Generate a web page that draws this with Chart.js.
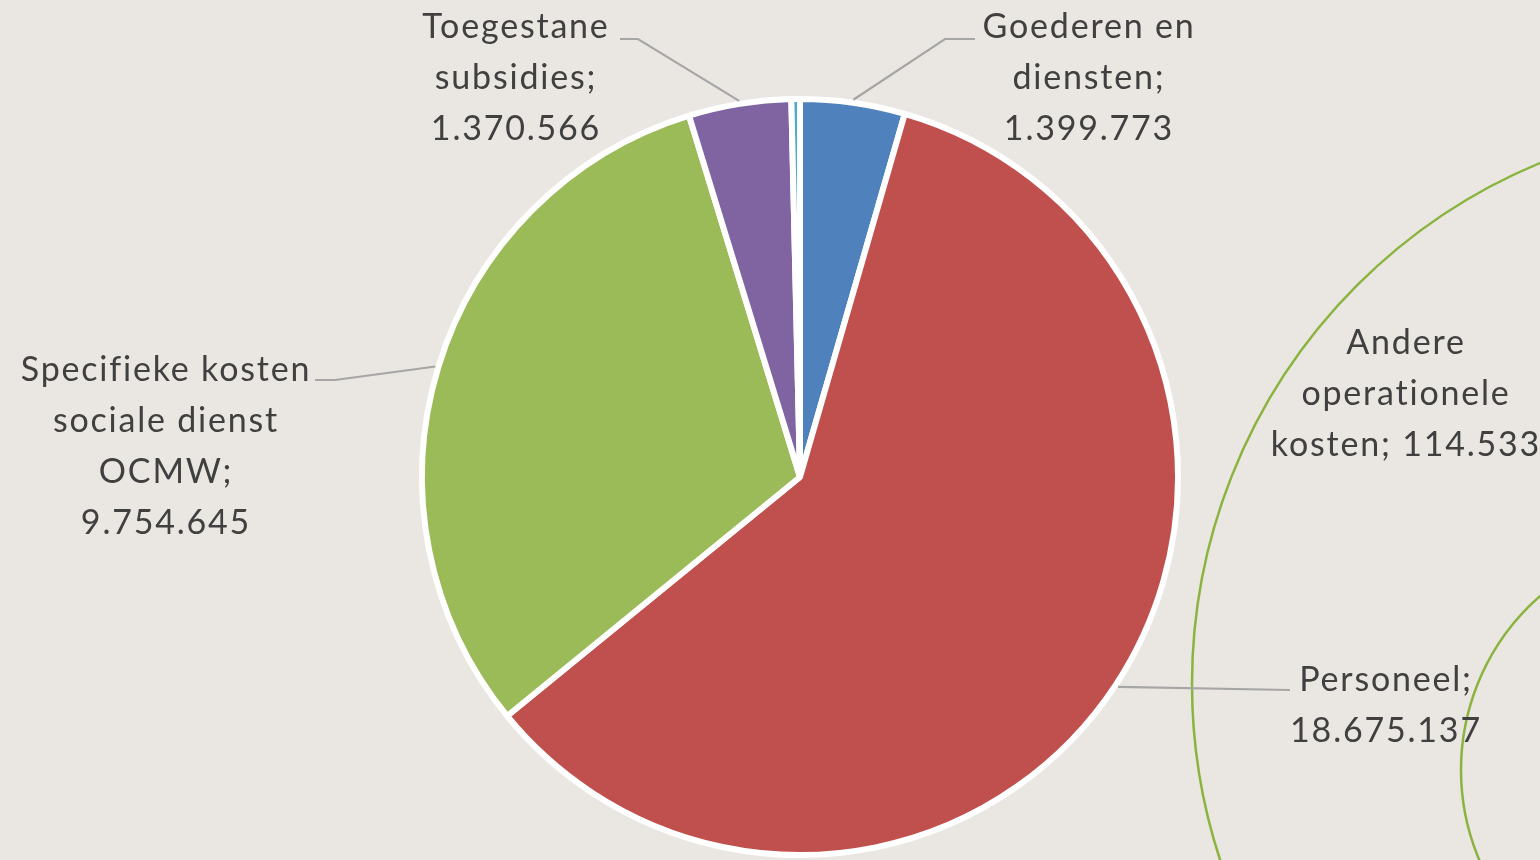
<!DOCTYPE html>
<html>
<head>
<meta charset="utf-8">
<script src="https://cdn.jsdelivr.net/npm/chart.js@4"></script>
<style>
    body { margin: 0; background: #EAE7E2; }
    #wrap { width: 1540px; height: 860px; position: relative; }
</style>
</head>
<body>
<div id="wrap"><canvas id="kosten"></canvas></div>
<script>
// categories and values
const categories = ["Goederen en diensten", "Personeel", "Specifieke kosten sociale dienst OCMW", "Toegestane subsidies", "Andere operationele kosten"];
const amounts = [1399773, 18675137, 9754645, 1370566, 114533];
const sliceColors = ["#4F81BD", "#C0504D", "#9BBB59", "#8064A2", "#4BACC6"];

// where each label goes: centre x, first line y, words per line, leader line elbow + end
const labelLayout = [
    { x: 1088, y: 27, breaks: [2, 1, 1], elbow: [945, 39], end: [975, 39] },
    { x: 1385, y: 680, breaks: [1, 1], elbow: null, end: [1290, 690] },
    { x: 165, y: 370, breaks: [2, 2, 1, 1], elbow: [335, 380], end: [315, 380] },
    { x: 515, y: 27, breaks: [1, 1, 1], elbow: [638, 39], end: [620, 39] },
    { x: 1405, y: 343, breaks: [1, 1, 2], elbow: null, end: null }
];

var fmt = function (v) {
    return String(v).replace(/\B(?=(\d{3})+(?!\d))/g, ".");
};

// green circles from the slide background
const backdrop = {
    id: "backdrop",
    beforeDraw(chart) {
        const ctx = chart.ctx;
        ctx.save();
        ctx.strokeStyle = "#8AB43F";
        ctx.lineWidth = 2.5;
        ctx.beginPath();
        ctx.arc(1756, 684, 564, 0, Math.PI * 2);
        ctx.stroke();
        ctx.beginPath();
        ctx.arc(1692, 770, 231, 0, Math.PI * 2);
        ctx.stroke();
        ctx.restore();
    }
};

const sliceLabels = {
    id: "sliceLabels",
    afterDatasetsDraw(chart) {
        const ctx = chart.ctx;
        const arcs = chart.getDatasetMeta(0).data;
        ctx.save();
        arcs.forEach(function (arc, i) {
            const lay = labelLayout[i];
            const p = arc.getProps(["x", "y", "startAngle", "endAngle", "outerRadius"], true);
            const mid = (p.startAngle + p.endAngle) / 2;
            // leader line
            if (lay.end) {
                ctx.strokeStyle = "#A6A6A6";
                ctx.lineWidth = 2.2;
                ctx.beginPath();
                ctx.moveTo(p.x + Math.cos(mid) * (p.outerRadius + 3), p.y + Math.sin(mid) * (p.outerRadius + 3));
                if (lay.elbow) ctx.lineTo(lay.elbow[0], lay.elbow[1]);
                ctx.lineTo(lay.end[0], lay.end[1]);
                ctx.stroke();
            }
            // text
            const words = (categories[i] + "; " + fmt(amounts[i])).split(" ");
            let k = 0;
            ctx.fillStyle = "#404040";
            ctx.font = "34px Lato";
            ctx.letterSpacing = "1.8px";
            ctx.textAlign = "center";
            ctx.textBaseline = "middle";
            lay.breaks.forEach(function (n, row) {
                ctx.fillText(words.slice(k, k + n).join(" "), lay.x + 1, lay.y + row * 51);
                k += n;
            });
        });
        ctx.restore();
    }
};

new Chart("kosten", {
    type: "pie",
    data: {
        labels: categories,
        datasets: [{
            data: amounts,
            backgroundColor: sliceColors,
            borderColor: "#FFFFFF",
            borderWidth: 6
        }]
    },
    options: {
        responsive: true,
        maintainAspectRatio: false,
        animation: false,
        radius: 378,
        layout: { padding: { left: 60, top: 94, right: 0, bottom: 0 } },
        plugins: {
            legend: { display: false },
            tooltip: { enabled: false }
        }
    },
    plugins: [backdrop, sliceLabels]
});
</script>
</body>
</html>
